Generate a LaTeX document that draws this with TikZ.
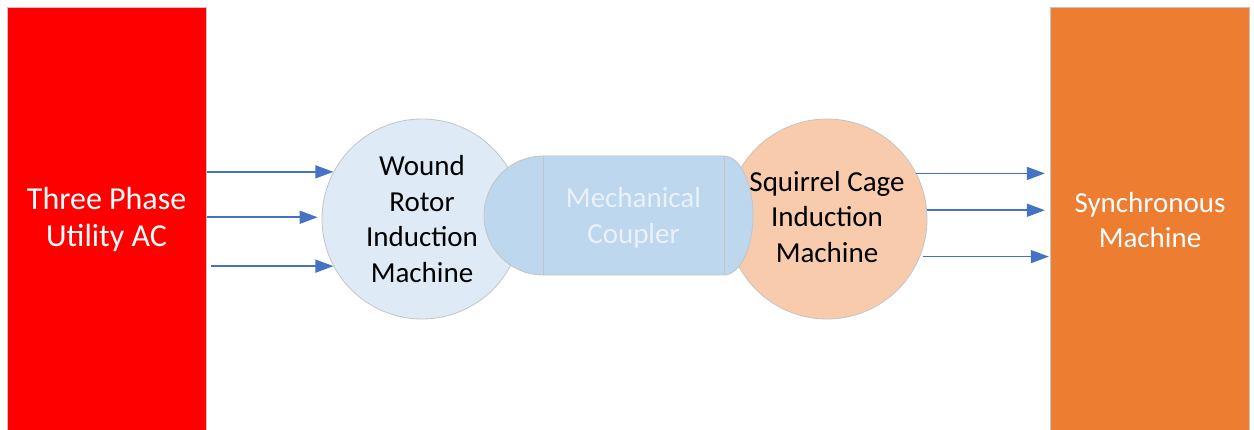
\documentclass[tikz,border=0pt]{standalone}
\usepackage{fontspec}
\setmainfont{Carlito}
\usetikzlibrary{arrows.meta}
\definecolor{srcred}{HTML}{FF0000}
\definecolor{synorange}{HTML}{ED7D31}
\definecolor{wrblue}{HTML}{DEEBF7}
\definecolor{scpeach}{HTML}{F8CBAD}
\definecolor{cpblue}{HTML}{BDD7EE}
\definecolor{cptext}{HTML}{EAF1FA}
\definecolor{edgegray}{HTML}{C4C4C4}
\definecolor{arrblue}{HTML}{4472C4}
\begin{document}
\begin{tikzpicture}[x=1pt,y=-1pt,
  panel/.style={draw=edgegray, line width=1pt, inner sep=0pt, text=white, align=center},
  machine/.style={circle, draw=edgegray, line width=0.8pt, minimum size=200pt, inner sep=0pt},
  mtext/.style={align=center, font=\fontsize{29}{35.5}\selectfont, inner sep=0pt},
  feed/.style={draw=arrblue, line width=1.5pt, -{Triangle[length=18pt,width=13pt]}},
  couplerline/.style={draw=edgegray, line width=0.8pt}
]
\useasboundingbox (0,0) rectangle (1254,430);
\clip (0,0) rectangle (1254,430);

% power source and load panels
\node[panel, fill=srcred, minimum width=199pt, minimum height=425pt,
      font=\fontsize{32}{37}\selectfont] (src) at (106.6,219.8) {Three Phase\\Utility AC};
\node[panel, fill=synorange, minimum width=198.3pt, minimum height=425pt,
      font=\fontsize{29}{35}\selectfont] (syn) at (1150,219.8) {Synchronous\\Machine};

% machines
\node[machine, fill=wrblue, mtext] (wr) at (422,219) {Wound\\Rotor\\Induction\\Machine};
\node[machine, fill=scpeach] (sc) at (827,219) {};

% mechanical coupler
\coordinate (cpTL) at (543,156);
\coordinate (cpTR) at (724,156);
\coordinate (cpBR) at (724,275);
\coordinate (cpBL) at (543,275);
\path[couplerline, fill=cpblue]
  (cpTL) -- (cpTR)
  .. controls (740,156) and (753,182.6) .. (753,215.5)
  .. controls (753,248.4) and (740,275) .. (cpBR)
  -- (cpBL)
  .. controls (510.4,275) and (484,248.4) .. (484,215.5)
  .. controls (484,182.6) and (510.4,156) .. (cpTL) -- cycle;
\draw[couplerline] (cpTL) -- (cpBL);
\draw[couplerline] (cpTR) -- (cpBR);
\node[mtext, text=cptext] (cp) at (633.5,218) {Mechanical\\Coupler};

\node[mtext] (sct) at (827,217) {Squirrel Cage\\Induction\\Machine};

% feeds
\draw[feed] (src.east |- wr.152) -- (wr.152);
\draw[feed, shorten >=4pt] (src.east |- wr.179) -- (wr.179);
\draw[feed, shorten <=4pt] (src.east |- wr.208) -- (wr.208);

\draw[feed, shorten >=5.5pt] (sc.27) -- (sc.27 -| syn.west);
\draw[feed, shorten >=5.5pt] (sc.5) -- (sc.5 -| syn.west);
\draw[feed, shorten <=2.5pt, shorten >=1.5pt] (sc.-22) -- (sc.-22 -| syn.west);
\end{tikzpicture}
\end{document}
